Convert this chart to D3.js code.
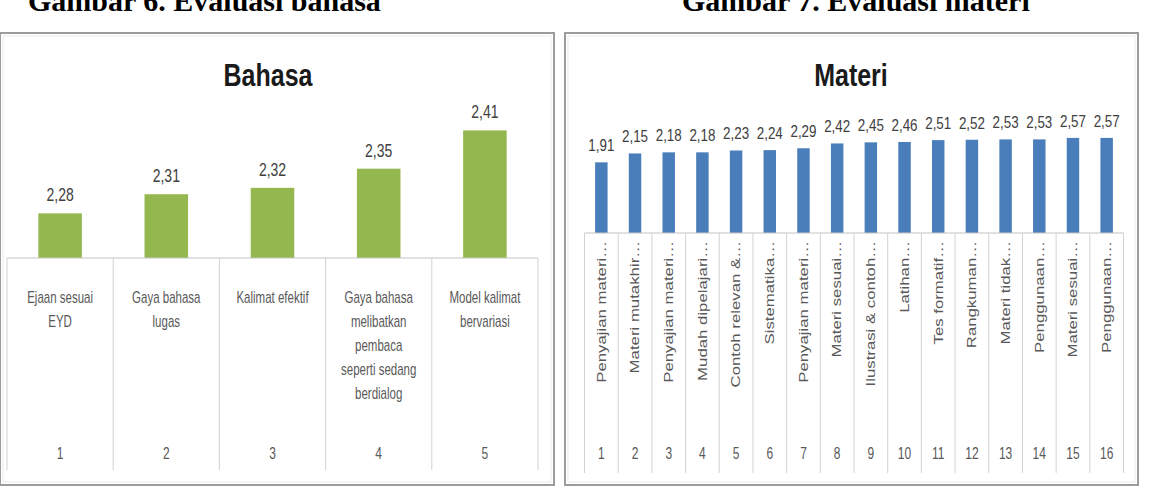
<!DOCTYPE html>
<html>
<head>
<meta charset="utf-8">
<script src="https://cdn.jsdelivr.net/npm/d3@7"></script>
<style>
  html, body { margin: 0; padding: 0; background: #fff; }
  svg { display: block; }
</style>
</head>
<body>
<svg id="chart" width="1150" height="488"></svg>
<script>
// ---------- DATA ----------
const captionLeft = "Gambar 6. Evaluasi bahasa";
const captionRight = "Gambar 7. Evaluasi materi";

const bahasaTitle = "Bahasa";
const bahasaLabels = [
  "Ejaan sesuai\nEYD",
  "Gaya bahasa\nlugas",
  "Kalimat efektif",
  "Gaya bahasa\nmelibatkan\npembaca\nseperti sedang\nberdialog",
  "Model kalimat\nbervariasi"
];
const bahasaNumbers = ["1", "2", "3", "4", "5"];
const bahasaValues = [2.28, 2.31, 2.32, 2.35, 2.41];

const materiTitle = "Materi";
const materiLabels = [
  "Penyajian materi…", "Materi mutakhir…", "Penyajian materi…", "Mudah dipelajari…",
  "Contoh relevan &…", "Sistematika…", "Penyajian materi…", "Materi sesuai…",
  "Ilustrasi & contoh…", "Latihan…", "Tes formatif…", "Rangkuman…",
  "Materi tidak…", "Penggunaan…", "Materi sesuai…", "Penggunaan…"
];
const materiNumbers = ["1","2","3","4","5","6","7","8","9","10","11","12","13","14","15","16"];
const materiValues = [1.91, 2.15, 2.18, 2.18, 2.23, 2.24, 2.29, 2.42, 2.45, 2.46, 2.51, 2.52, 2.53, 2.53, 2.57, 2.57];

const bahasaDomain = [2.21, 2.45];
const materiDomain = [0, 3];

// ---------- STYLE ----------
const SANS = "'Liberation Sans', Arial, sans-serif";
const fmt = v => d3.format(".2f")(v).replace(".", ",");

const svg = d3.select("#chart");

// stretched text helper (reference text is vertically stretched)
function sText(g, x, y, str, size, sy, opts = {}) {
  return g.append("text")
    .attr("transform", `translate(${x},${y}) scale(1,${sy})`)
    .attr("text-anchor", opts.anchor || "middle")
    .attr("font-family", opts.family || SANS)
    .attr("font-weight", opts.weight || "normal")
    .attr("font-size", size)
    .attr("fill", opts.fill || "#404040")
    .text(str);
}

// captions (cut at the top of the picture)
svg.append("text").attr("x", 28).attr("y", 11)
  .attr("font-family", "'Liberation Serif', 'Times New Roman', serif")
  .attr("font-weight", "bold").attr("font-size", 30).attr("fill", "#000")
  .text(captionLeft);
svg.append("text").attr("x", 682).attr("y", 11)
  .attr("font-family", "'Liberation Serif', 'Times New Roman', serif")
  .attr("font-weight", "bold").attr("font-size", 30).attr("fill", "#000")
  .text(captionRight);

function frame(x0, y0, x1, y1) {
  svg.append("rect").attr("x", x0 + 3).attr("y", y0 + 3)
    .attr("width", x1 - x0 - 6).attr("height", y1 - y0 - 6)
    .attr("fill", "none").attr("stroke", "#ececec").attr("stroke-width", 1);
  svg.append("rect").attr("x", x0).attr("y", y0)
    .attr("width", x1 - x0).attr("height", y1 - y0)
    .attr("fill", "none").attr("stroke", "#9c9c9c").attr("stroke-width", 2);
}

// ---------- LEFT CHART: Bahasa ----------
(function () {
  frame(0, 33, 554, 485);
  const g = svg.append("g");
  const axisY = 258, gridBottom = 470;
  const x = d3.scaleBand().domain(d3.range(bahasaValues.length)).range([7, 538]).padding(0);
  const y = d3.scaleLinear().domain(bahasaDomain).range([axisY, axisY - 0.24 * 638]);
  const bw = x.bandwidth() * 0.41;

  sText(g, 268, 86, bahasaTitle, 25, 1.25, { weight: "bold", fill: "#1a1a1a" });

  g.selectAll("rect.bar").data(bahasaValues).join("rect").attr("class", "bar")
    .attr("x", (d, i) => x(i) + x.bandwidth() / 2 - bw / 2)
    .attr("y", d => y(d))
    .attr("width", bw)
    .attr("height", d => axisY - y(d))
    .attr("fill", "#94b84f");

  bahasaValues.forEach((v, i) => {
    sText(g, x(i) + x.bandwidth() / 2, y(v) - 12, fmt(v), 14, 1.3, { fill: "#404040" });
  });

  // category axis lines
  g.append("line").attr("x1", x.range()[0]).attr("x2", x.range()[1])
    .attr("y1", axisY).attr("y2", axisY).attr("stroke", "#c4c4c4").attr("stroke-width", 1.2);
  const edges = d3.range(bahasaValues.length + 1).map(i => i < bahasaValues.length ? x(i) : x.range()[1]);
  g.selectAll("line.div").data(edges).join("line").attr("class", "div")
    .attr("x1", d => d).attr("x2", d => d)
    .attr("y1", axisY).attr("y2", gridBottom)
    .attr("stroke", "#d2d2d2").attr("stroke-width", 1);

  bahasaLabels.forEach((lab, i) => {
    lab.split("\n").forEach((ln, j) => {
      sText(g, x(i) + x.bandwidth() / 2, 303 + j * 24, ln, 11.5, 1.4, { fill: "#595959" });
    });
    sText(g, x(i) + x.bandwidth() / 2, 459, bahasaNumbers[i], 12, 1.4, { fill: "#595959" });
  });
})();

// ---------- RIGHT CHART: Materi ----------
(function () {
  frame(565, 33, 1138, 485);
  const g = svg.append("g");
  const axisY = 233, gridBottom = 473;
  const x = d3.scaleBand().domain(d3.range(materiValues.length)).range([584.5, 1123.5]).padding(0);
  const y = d3.scaleLinear().domain(materiDomain).range([axisY, axisY - 3 * 37]);
  const bw = x.bandwidth() * 0.37;

  sText(g, 851, 86, materiTitle, 25, 1.25, { weight: "bold", fill: "#1a1a1a" });

  g.selectAll("rect.bar").data(materiValues).join("rect").attr("class", "bar")
    .attr("x", (d, i) => x(i) + x.bandwidth() / 2 - bw / 2)
    .attr("y", d => y(d))
    .attr("width", bw)
    .attr("height", d => axisY - y(d))
    .attr("fill", "#4a7ebb");

  materiValues.forEach((v, i) => {
    sText(g, x(i) + x.bandwidth() / 2, y(v) - 11, fmt(v), 13.4, 1.3, { fill: "#404040" });
  });

  g.append("line").attr("x1", x.range()[0]).attr("x2", x.range()[1])
    .attr("y1", axisY).attr("y2", axisY).attr("stroke", "#c4c4c4").attr("stroke-width", 1.2);
  const edges = d3.range(materiValues.length + 1).map(i => i < materiValues.length ? x(i) : x.range()[1]);
  g.selectAll("line.div").data(edges).join("line").attr("class", "div")
    .attr("x1", d => d).attr("x2", d => d)
    .attr("y1", axisY).attr("y2", gridBottom)
    .attr("stroke", "#d2d2d2").attr("stroke-width", 1);

  materiLabels.forEach((lab, i) => {
    const cx = x(i) + x.bandwidth() / 2;
    g.append("text")
      .attr("transform", `translate(${cx + 4.3},241) rotate(-90) scale(1.4,1)`)
      .attr("text-anchor", "end")
      .attr("font-family", SANS).attr("font-size", 12)
      .attr("fill", "#595959")
      .text(lab);
    sText(g, cx, 459, materiNumbers[i], 12, 1.4, { fill: "#595959" });
  });
})();
</script>
</body>
</html>
